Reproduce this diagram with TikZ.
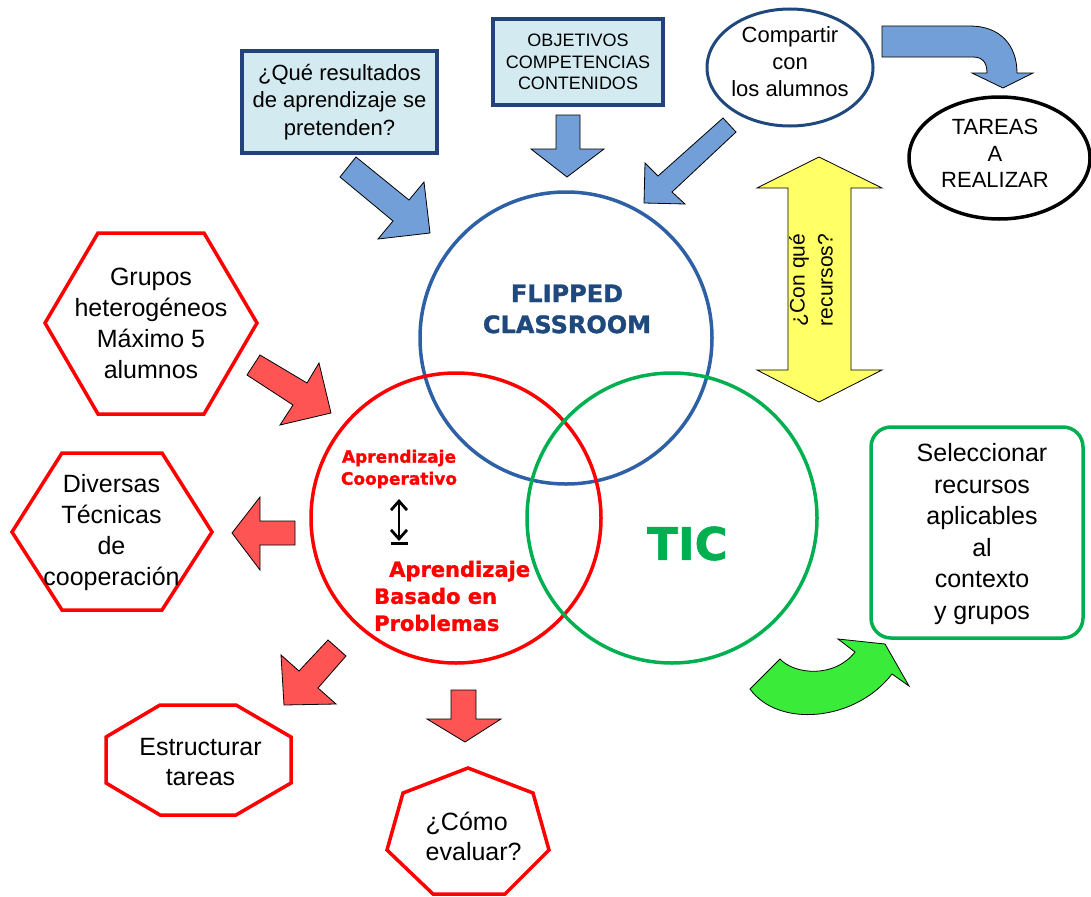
\documentclass[tikz,border=0pt]{standalone}
\usepackage{fontspec}
\setmainfont{Liberation Sans}
\newfontfamily\heavyfont[FakeBold=1.3]{DejaVu Sans Bold}
\usepackage{tikz}
\usetikzlibrary{shapes.geometric, arrows.meta}

\definecolor{flipblue}{RGB}{46,96,166}
\definecolor{flipdark}{RGB}{31,73,125}
\definecolor{boxfill}{RGB}{210,234,240}
\definecolor{boxline}{RGB}{36,66,122}
\definecolor{arrowblue}{RGB}{114,159,216}
\definecolor{arrowred}{RGB}{255,84,84}
\definecolor{arrowgreen}{RGB}{58,235,58}
\definecolor{arrowyellow}{RGB}{255,255,102}
\definecolor{ticgreen}{RGB}{0,176,80}

\newcommand{\txtsize}[2]{\fontsize{#1bp}{#2bp}\selectfont}

\tikzstyle{blockarrow} = [draw=black, line width=0.8bp, line join=miter]
\tikzstyle{ring} = [circle, draw, line width=3.5bp, minimum size=292bp]
\tikzstyle{redshape} = [draw=red, line width=3.5bp, line join=miter]
\tikzstyle{bluebox} = [rectangle, draw=boxline, fill=boxfill, line width=3.5bp]
\tikzstyle{updown} = [line width=2.8bp, {Straight Barb[length=9bp,width=16bp]}-{Straight Barb[length=9bp,width=16bp]}]

\begin{document}
\begin{tikzpicture}[x=1bp, y=-1bp, every node/.style={inner sep=0pt, align=center}]
        \useasboundingbox (0,0) rectangle (1091,897);

        % Circles
        \node[ring, draw=flipblue] (flipped) at (566,338) {};
        \node[ring, draw=red, minimum size=290bp] (abp) at (456,518) {};
        \node[ring, draw=ticgreen, minimum size=290bp] (tic) at (672,518) {};

        \node[text=flipdark, font={\heavyfont\txtsize{24}{31}}] (fliptxt) at (567,309) {FLIPPED\\CLASSROOM};
        \node[text=ticgreen, font={\heavyfont\txtsize{45}{54}}] (tictxt) at (687.5,543.5) {TIC};
        \node[text=red, font={\heavyfont\txtsize{17}{22}}] (cooptxt) at (399,469) {Aprendizaje\\Cooperativo};
        \node[text=red, font={\heavyfont\txtsize{21}{27}}, anchor=west, align=left] (abptxt) at (374,596) {\hspace*{15bp}Aprendizaje\\Basado en\\Problemas};

        \coordinate (updn top) at (399,499);
        \coordinate (updn bot) at (399,541);
        \coordinate (bar west) at (391,543.5);
        \coordinate (bar east) at (408,543.5);
        \draw[updown] (updn top) -- (updn bot);
        \draw[line width=2.8bp] (bar west) -- (bar east);

        % Top boxes and ellipses
        \node[bluebox, minimum width=195bp, minimum height=102bp, font=\txtsize{22}{27.5}] (resultados) at (339.5,102) {¿Qué resultados\\de aprendizaje se\\pretenden?};
        \node[bluebox, minimum width=170bp, minimum height=86bp, font=\txtsize{18}{21.5}] (objetivos) at (578,62) {OBJETIVOS\\COMPETENCIAS\\CONTENIDOS};

        \node[ellipse, draw=flipdark, line width=3bp, minimum width=166bp, minimum height=117bp] (compartir) at (790,67.5) {};
        \node[font=\txtsize{22}{27}] (compartirtxt) at (790,62) {Compartir\\con\\los alumnos};
        \node[ellipse, draw=black, line width=3.5bp, minimum width=181bp, minimum height=122bp] (tareas) at (999.5,158) {};
        \node[font=\txtsize{22}{26.5}] (tareastxt) at (995,153.5) {TAREAS\\A\\REALIZAR};

        % Blue arrows
        \draw[blockarrow, fill=arrowblue] (356,157) -- (409,200) -- (424,182) -- (430,233) -- (378,239) -- (393,221) -- (340,177) -- cycle;
        \draw[blockarrow, fill=arrowblue] (556,115) -- (580,115) -- (580,149) -- (604,149) -- (567,177) -- (531,149) -- (556,149) -- cycle;
        \draw[blockarrow, fill=arrowblue] (736,132) -- (672,192) -- (685,204) -- (644,203) -- (645,163) -- (658,176) -- (723,118) -- cycle;
        \draw[blockarrow, fill=arrowblue] (882,26) -- (970,26) .. controls (1000,26) and (1017,45) .. (1017,73) -- (1033,73) -- (1003,88) -- (972,73) -- (987,73) .. controls (987,63) and (983,57) .. (973,57) -- (882,57) -- cycle;

        % Yellow double arrow
        \draw[blockarrow, fill=arrowyellow] (819,157) -- (882,188) -- (851,188) -- (851,370) -- (882,370) -- (819,402) -- (757,370) -- (788,370) -- (788,188) -- (757,188) -- cycle;
        \node[rotate=90, font=\txtsize{21}{28}] (recursos) at (811,280) {¿Con qué\\recursos?};

        % Red shapes
        \draw[redshape] (98,233) -- (204,233) -- (257,323) -- (204,414) -- (98,414) -- (45,323) -- cycle;
        \node[font=\txtsize{25}{31}] (grupos) at (151,323.5) {Grupos\\heterogéneos\\Máximo 5\\alumnos};
        \draw[redshape] (62,453) -- (162,453) -- (212,532) -- (162,610) -- (62,610) -- (12,532) -- cycle;
        \node[font=\txtsize{25}{31}] (tecnicas) at (111.5,533) {Diversas\\Técnicas\\de\\cooperación};
        \draw[redshape] (160,705) -- (236,705) -- (291,737) -- (291,783) -- (236,815) -- (160,815) -- (106,783) -- (106,737) -- cycle;
        \node[font=\txtsize{25}{30}] (estructurar) at (200.5,762) {Estructurar\\tareas};
        \draw[redshape] (468,768) -- (533,793) -- (549,850) -- (505,894) -- (433,894) -- (387,850) -- (403,793) -- cycle;
        \node[font=\txtsize{25}{30}, anchor=west, align=left] (evaluar) at (425.5,836.75) {¿Cómo\\evaluar?};

        % Red arrows
        \draw[blockarrow, fill=arrowred] (260,355) -- (307,383) -- (319,363) -- (331,413) -- (280,425) -- (293,405) -- (247,375) -- cycle;
        \draw[blockarrow, fill=arrowred] (295,521) -- (295,545) -- (260,545) -- (260,570) -- (232,533) -- (260,497) -- (260,521) -- cycle;
        \draw[blockarrow, fill=arrowred] (328,640) -- (346,656) -- (318,688) -- (336,704) -- (284,705) -- (281,655) -- (299,671) -- cycle;
        \draw[blockarrow, fill=arrowred] (451,690) -- (476,690) -- (476,719) -- (501,719) -- (465,742) -- (427,719) -- (451,719) -- cycle;

        % Green box and arrow
        \node[draw=ticgreen, line width=3.5bp, rounded corners=20bp, minimum width=212bp, minimum height=211bp] (seleccionar) at (977,532.5) {};
        \node[font=\txtsize{25}{31.5}] (selecciontxt) at (982,534) {Seleccionar\\recursos\\aplicables\\al\\contexto\\y grupos};
        \draw[blockarrow, fill=arrowgreen] (750,689) -- (780,659) .. controls (795,675) and (835,678) .. (855,652) -- (838,639) -- (885,644) -- (909,686) -- (892,674) .. controls (855,722) and (778,728) .. (750,689) -- cycle;
      \end{tikzpicture}
\end{document}
